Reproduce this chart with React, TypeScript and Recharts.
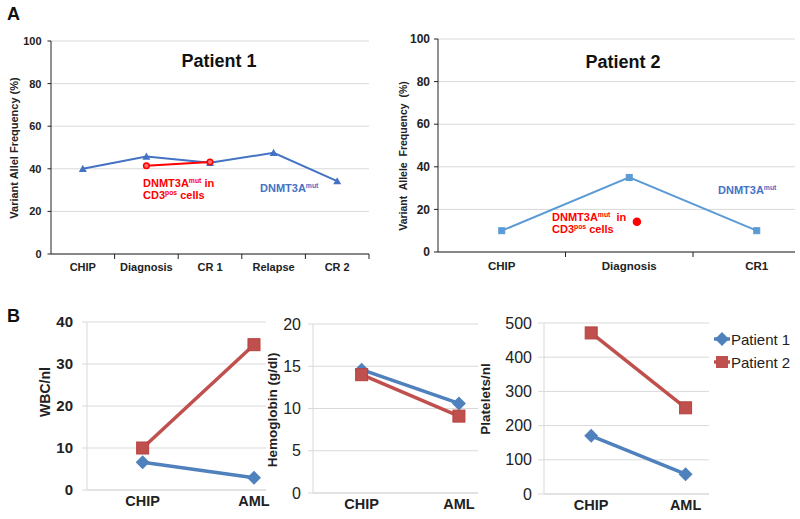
import React from 'react';
import { LineChart, Line, XAxis, YAxis, CartesianGrid } from 'recharts';

const FONT = 'Arial, "Liberation Sans", sans-serif';

// panel A: variant allele frequency along the disease course
const p1Stages = ['CHIP', 'Diagnosis', 'CR 1', 'Relapse', 'CR 2'];
const p1Dnmt3a = [40, 45.8, 42.8, 47.5, 34.2];
const p1Dnmt3aCd3 = [null, 41.4, 43.2, null, null];

const p2Stages = ['CHIP', 'Diagnosis', 'CR1'];
const p2Dnmt3a = [10, 35, 10];
const p2Dnmt3aCd3 = [null, 14.2, null];

const vafTicks = [0, 20, 40, 60, 80, 100];

// panel B: blood counts at CHIP and at AML
const timepoints = ['CHIP', 'AML'];
const patients = ['Patient 1', 'Patient 2'];
const wbcP1 = [6.6, 2.9];
const wbcP2 = [10, 34.6];
const hbP1 = [14.6, 10.6];
const hbP2 = [14.0, 9.1];
const pltP1 = [170, 58];
const pltP2 = [471, 252];
const wbcTicks = [0, 10, 20, 30, 40];
const hbTicks = [0, 5, 10, 15, 20];
const pltTicks = [0, 100, 200, 300, 400, 500];

const BLUE = '#4F81BD';
const RED = '#C0504D';

const buildRows = (names: string[], a: (number | null)[], b: (number | null)[], bShift = 0) =>
  names.map((name, i) => ({ name, pos: i + 0.5, a: a[i], b: b[i], bPos: i + 0.5 + bShift }));

const centerTicks = (names: string[]) => names.map((_, i) => i + 0.5);

const missing = (p: any) => p.cx == null || p.cy == null || p.value == null || (Array.isArray(p.value) && p.value[1] == null);

const triangleDot = (color: string, r: number) => (p: any) =>
  missing(p) ? <g key={p.index} /> : (
    <polygon key={p.index} points={`${p.cx},${p.cy - r} ${p.cx + r},${p.cy + r * 0.8} ${p.cx - r},${p.cy + r * 0.8}`} fill={color} />
  );

const circleDot = (fill: string, stroke: string, r: number) => (p: any) =>
  missing(p) ? <g key={p.index} /> : <circle key={p.index} cx={p.cx} cy={p.cy} r={r} fill={fill} stroke={stroke} strokeWidth={1.5} />;

const squareDot = (color: string, s: number, stroke?: string) => (p: any) =>
  missing(p) ? <g key={p.index} /> : (
    <rect key={p.index} x={p.cx - s / 2} y={p.cy - s / 2} width={s} height={s} fill={color} stroke={stroke || color} strokeWidth={1} />
  );

const diamondDot = (color: string, r: number) => (p: any) =>
  missing(p) ? <g key={p.index} /> : (
    <polygon key={p.index} points={`${p.cx},${p.cy - r} ${p.cx + r},${p.cy} ${p.cx},${p.cy + r} ${p.cx - r},${p.cy}`} fill={color} />
  );

// x tick: labels at band centres, little marks at band edges (Excel style)
const stageTick = (names: string[], fontSize: number, gap: number, marks: boolean) => (props: any) => {
  const { x, y, payload, index } = props;
  const v = payload.value;
  if (Number.isInteger(v)) {
    return marks ? <line key={index} x1={x} x2={x} y1={y} y2={y + 5} stroke="#222" strokeWidth={1} /> : <g key={index} />;
  }
  return (
    <text key={index} x={x} y={y + gap} dy="0.71em" textAnchor="middle" fontFamily={FONT} fontSize={fontSize} fontWeight="bold" fill="#222">
      {names[Math.floor(v)]}
    </text>
  );
};

const VafChart = (props: any) => {
  const { left, top, width, height, margin, yWidth, xHeight, names, blue, red, redShift, domainMax, tickFont, xFont, xGap, yTickSize, yTickMargin, blueColor, blueDot, redDot, redWidth } = props;
  const rows = buildRows(names, blue, red, redShift || 0);
  const edges = [];
  for (let i = 1; i <= Math.floor(domainMax); i++) edges.push(i);
  const ticks = [...centerTicks(names), ...edges].sort((a, b) => a - b);
  // the CD3 series may sit slightly off the band centre (as in the source figure)
  const redRows = rows.map((r) => ({ pos: r.bPos, b: r.b }));
  return (
    <div style={{ position: 'absolute', left, top, width, height }}>
      <LineChart width={width} height={height} data={rows} margin={margin}>
        <CartesianGrid horizontal vertical={false} stroke="#d9d9d9" />
        <XAxis dataKey="pos" type="number" domain={[0, domainMax]} allowDataOverflow ticks={ticks} interval={0}
          height={xHeight} tickLine={false} tickSize={0} tickMargin={0} axisLine={{ stroke: '#222' }}
          tick={stageTick(names, xFont, xGap, true)} />
        <YAxis type="number" domain={[0, 100]} ticks={vafTicks} interval={0} width={yWidth}
          tickSize={yTickSize} tickMargin={yTickMargin} axisLine={{ stroke: '#222' }} tickLine={{ stroke: '#222' }}
          tick={{ fontFamily: FONT, fontSize: tickFont, fontWeight: 'bold', fill: '#222' }} />
        <Line dataKey="a" stroke={blueColor} strokeWidth={2} dot={blueDot} isAnimationActive={false} />
        <Line data={redRows} dataKey="b" stroke="#FF0000" strokeWidth={redWidth} dot={redDot} isAnimationActive={false} />
      </LineChart>
    </div>
  );
};

const CountChart = (props: any) => {
  const { left, top, width, height, margin, yWidth, xHeight, p1, p2, ticksY, domainMax, tickFont, tickBold, yTickSize, yTickMargin } = props;
  const rows = buildRows(timepoints, p1, p2);
  return (
    <div style={{ position: 'absolute', left, top, width, height }}>
      <LineChart width={width} height={height} data={rows} margin={margin}>
        <CartesianGrid horizontal vertical={false} stroke="#d9d9d9" />
        <XAxis dataKey="pos" type="number" domain={[0, domainMax]} allowDataOverflow ticks={centerTicks(timepoints)} interval={0}
          height={xHeight} tickLine={false} tickSize={0} tickMargin={0} axisLine={{ stroke: '#d9d9d9' }}
          tick={stageTick(timepoints, 14.5, 6, false)} />
        <YAxis type="number" domain={[ticksY[0], ticksY[ticksY.length - 1]]} ticks={ticksY} interval={0} width={yWidth}
          tickSize={yTickSize} tickMargin={yTickMargin} axisLine={{ stroke: '#d9d9d9' }} tickLine={{ stroke: '#d9d9d9' }}
          tick={{ fontFamily: FONT, fontSize: tickFont, fontWeight: tickBold ? 'bold' : 'normal', fill: '#222' }} />
        <Line dataKey="a" name={patients[0]} stroke={BLUE} strokeWidth={3.5} dot={diamondDot(BLUE, 7)} isAnimationActive={false} />
        <Line dataKey="b" name={patients[1]} stroke={RED} strokeWidth={3.5} dot={squareDot(RED, 12, '#b5423f')} isAnimationActive={false} />
      </LineChart>
    </div>
  );
};

const Mut = ({ x, y, color, size, head, sup, tail }: any) => (
  <text x={x} y={y} fill={color} fontFamily={FONT} fontWeight="bold" fontSize={size} style={{ whiteSpace: 'pre' }}>
    {head}
    <tspan fontSize={size * 0.62} dy={-size * 0.4}>{sup}</tspan>
    {tail ? <tspan dy={size * 0.4}>{tail}</tspan> : null}
  </text>
);

const VText = ({ x, y, size, children, pre }: any) => (
  <text transform={`translate(${x},${y}) rotate(-90)`} textAnchor="middle" dominantBaseline="central"
    fontFamily={FONT} fontWeight="bold" fontSize={size} fill="#222" style={pre ? { whiteSpace: 'pre' } : undefined}>
    {children}
  </text>
);

export default function App() {
  return (
    <div style={{ position: 'absolute', left: 0, top: 0, width: 800, height: 519, background: '#fff', overflow: 'hidden' }}>
      <style>{'.recharts-surface { overflow: visible; }'}</style>
      <VafChart left={0} top={0} width={380} height={290} margin={{ top: 41, right: 11, left: 0, bottom: 0 }}
        yWidth={51} xHeight={36} names={p1Stages} blue={p1Dnmt3a} red={p1Dnmt3aCd3} domainMax={5}
        tickFont={11} xFont={11} xGap={9} yTickSize={3.5} yTickMargin={6} blueColor="#4472C4"
        blueDot={triangleDot('#4472C4', 4)} redDot={circleDot('#ff7070', '#ff0000', 2.8)} redWidth={2} />
      <VafChart left={380} top={0} width={420} height={290} margin={{ top: 39, right: 5, left: 0, bottom: 0 }}
        yWidth={58} xHeight={38} names={p2Stages} blue={p2Dnmt3a} red={p2Dnmt3aCd3} redShift={0.06} domainMax={2.8}
        tickFont={12} xFont={11.5} xGap={10} yTickSize={4} yTickMargin={4} blueColor="#5B9BD5"
        blueDot={squareDot('#5B9BD5', 6)} redDot={circleDot('#ff0000', '#ff0000', 3.5)} redWidth={0} />

      <CountChart left={0} top={300} width={266} height={219} margin={{ top: 22, right: 0, left: 0, bottom: 0 }}
        yWidth={87} xHeight={29} p1={wbcP1} p2={wbcP2} ticksY={wbcTicks} domainMax={1.608}
        tickFont={15} tickBold yTickSize={5} yTickMargin={9} />
      <CountChart left={268} top={300} width={210} height={219} margin={{ top: 24, right: 0, left: 0, bottom: 0 }}
        yWidth={45} xHeight={26} p1={hbP1} p2={hbP2} ticksY={hbTicks} domainMax={1.696}
        tickFont={16} tickBold={false} yTickSize={5} yTickMargin={7} />
      <CountChart left={478} top={300} width={322} height={219} margin={{ top: 23, right: 91, left: 0, bottom: 0 }}
        yWidth={66} xHeight={25} p1={pltP1} p2={pltP2} ticksY={pltTicks} domainMax={1.748}
        tickFont={16} tickBold={false} yTickSize={6} yTickMargin={6} />

      <svg width={800} height={519} style={{ position: 'absolute', left: 0, top: 0, pointerEvents: 'none' }}>
        <text x={7} y={20} fontFamily={FONT} fontWeight="bold" fontSize={18} fill="#111">A</text>
        <text x={7} y={322} fontFamily={FONT} fontWeight="bold" fontSize={18} fill="#111">B</text>

        <text x={219} y={67} textAnchor="middle" fontFamily={FONT} fontWeight="bold" fontSize={18} fill="#111">Patient 1</text>
        <text x={623} y={68} textAnchor="middle" fontFamily={FONT} fontWeight="bold" fontSize={18} fill="#111">Patient 2</text>

        <VText x={14} y={148} size={11}>Variant Allel Frequency (%)</VText>
        <VText x={403} y={156} size={10.5} pre>{'Variant  Allele  Frequency  (%)'}</VText>

        <Mut x={143} y={187} color="#FF0000" size={11} head="DNMT3A" sup="mut" tail=" in" />
        <Mut x={143} y={199} color="#FF0000" size={11} head="CD3" sup="pos" tail=" cells" />
        <Mut x={260} y={192} color="#4472C4" size={11} head="DNMT3A" sup="mut" />

        <Mut x={552} y={221} color="#FF0000" size={11} head="DNMT3A" sup="mut" tail="  in" />
        <Mut x={552} y={233} color="#FF0000" size={11} head="CD3" sup="pos" tail=" cells" />
        <Mut x={718} y={194} color="#4472C4" size={11} head="DNMT3A" sup="mut" />

        <VText x={45} y={392} size={14}>WBC/nl</VText>
        <VText x={272} y={410} size={13.5}>Hemoglobin (g/dl)</VText>
        <VText x={485} y={399} size={13.5}>Platelets/nl</VText>

        <line x1={714} x2={730} y1={339} y2={339} stroke={BLUE} strokeWidth={3.5} />
        <polygon points="722,332 729,339 722,346 715,339" fill={BLUE} />
        <text x={731} y={339} dominantBaseline="central" fontFamily={FONT} fontSize={15} fill="#222">{patients[0]}</text>
        <line x1={714} x2={730} y1={362} y2={362} stroke={RED} strokeWidth={3.5} />
        <rect x={716} y={356} width={12} height={12} fill={RED} />
        <text x={731} y={362} dominantBaseline="central" fontFamily={FONT} fontSize={15} fill="#222">{patients[1]}</text>
      </svg>
    </div>
  );
}
